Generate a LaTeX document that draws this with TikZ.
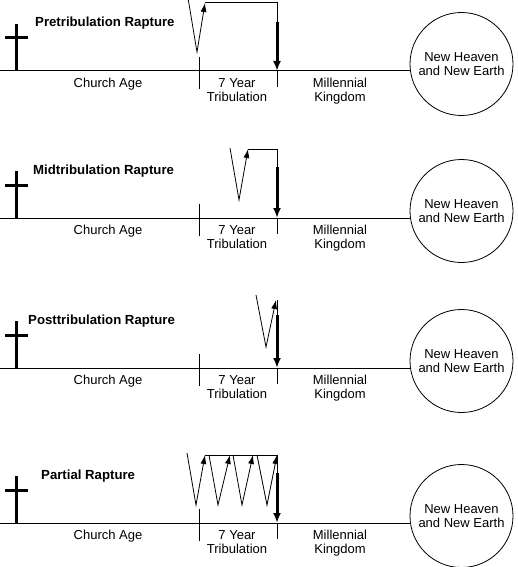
\documentclass[tikz,border=0pt]{standalone}
\usepackage{fontspec}
\setmainfont{Liberation Sans}
\usetikzlibrary{arrows.meta}
\begin{document}
\begin{tikzpicture}[x=1pt,y=-1pt,
    rim/.style={line width=1pt},
    crossbar/.style={line width=3pt},
    rapt/.style={line width=0.8pt, -{Latex[length=9pt,width=6pt]}},
    comeback/.style={line width=3pt, -{Latex[length=10pt,width=8pt]}},
    lbl/.style={font=\fontsize{13}{14}\selectfont, align=center, inner sep=0pt, anchor=north},
    ttl/.style={font=\fontsize{13.2}{15}\selectfont\bfseries, inner sep=0pt, anchor=base west},
    earth/.style={draw, circle, line width=0.8pt, minimum size=103pt, inner sep=0pt, align=center, font=\fontsize{13}{14}\selectfont}]
\useasboundingbox (0,0) rectangle (517,567);

% pretribulation
\node[earth] (heaven1) at (461.5,64) {New Heaven\\and New Earth};
\coordinate (start1) at (0,71);
\draw[rim] (start1)--(start1 -| heaven1.west);
\draw[crossbar] (16,24)--(16,71);
\draw[crossbar] (5,38)--(28,38);
\node[ttl] (title1) at (35,27) {Pretribulation Rapture};
\draw[rim] (199,57)--(199,89);
\draw[rim] (277,71)--(277,87);
\node[lbl] (church1) at (108,78) {Church Age};
\node[lbl] (trib1) at (237,78) {7 Year\\Tribulation};
\node[lbl] (mill1) at (340,78) {Millennial\\Kingdom};
\draw[rapt] (188,-2)--(197,52)--(205,3);
\draw[rim] (205,3)--(277,3)--(277,22);
\draw[comeback] (277,22)--(277,71);

% midtribulation
\node[earth] (heaven2) at (461.5,211) {New Heaven\\and New Earth};
\coordinate (start2) at (0,218);
\draw[rim] (start2)--(start2 -| heaven2.west);
\draw[crossbar] (16,171)--(16,218);
\draw[crossbar] (5,185)--(28,185);
\node[ttl] (title2) at (33,174) {Midtribulation Rapture};
\draw[rim] (199,204)--(199,236);
\draw[rim] (277,218)--(277,234);
\node[lbl] (church2) at (108,225) {Church Age};
\node[lbl] (trib2) at (237,225) {7 Year\\Tribulation};
\node[lbl] (mill2) at (340,225) {Millennial\\Kingdom};
\draw[rapt] (230,148)--(239,200)--(248,149);
\draw[rim] (248,149)--(277,149)--(277,167);
\draw[comeback] (277,167)--(277,218);

% posttribulation
\node[earth] (heaven3) at (461.5,361) {New Heaven\\and New Earth};
\coordinate (start3) at (0,368);
\draw[rim] (start3)--(start3 -| heaven3.west);
\draw[crossbar] (16,321)--(16,368);
\draw[crossbar] (5,335)--(28,335);
\node[ttl] (title3) at (28,324) {Posttribulation Rapture};
\draw[rim] (199,354)--(199,386);
\draw[rim] (277,368)--(277,384);
\node[lbl] (church3) at (108,375) {Church Age};
\node[lbl] (trib3) at (237,375) {7 Year\\Tribulation};
\node[lbl] (mill3) at (340,375) {Millennial\\Kingdom};
\draw[rapt] (256,295)--(266,347)--(276,300);
\draw[rim] (277,300)--(277,315);
\draw[comeback] (277,315)--(277,368);

% partial
\node[earth] (heaven4) at (461.5,516) {New Heaven\\and New Earth};
\coordinate (start4) at (0,523);
\draw[rim] (start4)--(start4 -| heaven4.west);
\draw[crossbar] (16,476)--(16,523);
\draw[crossbar] (5,490)--(28,490);
\node[ttl] (title4) at (41,479) {Partial Rapture};
\draw[rim] (199,509)--(199,541);
\draw[rim] (277,523)--(277,539);
\node[lbl] (church4) at (108,530) {Church Age};
\node[lbl] (trib4) at (237,530) {7 Year\\Tribulation};
\node[lbl] (mill4) at (340,530) {Millennial\\Kingdom};
\draw[rapt] (187,453)--(196,505)--(205,455);
\draw[rapt] (209,455)--(218,505)--(230,455);
\draw[rapt] (233,455)--(242,505)--(253,455);
\draw[rapt] (257,455)--(267,505)--(277,455);
\draw[rim] (205,455)--(277,455)--(277,473);
\draw[comeback] (277,473)--(277,523);
\end{tikzpicture}
\end{document}
